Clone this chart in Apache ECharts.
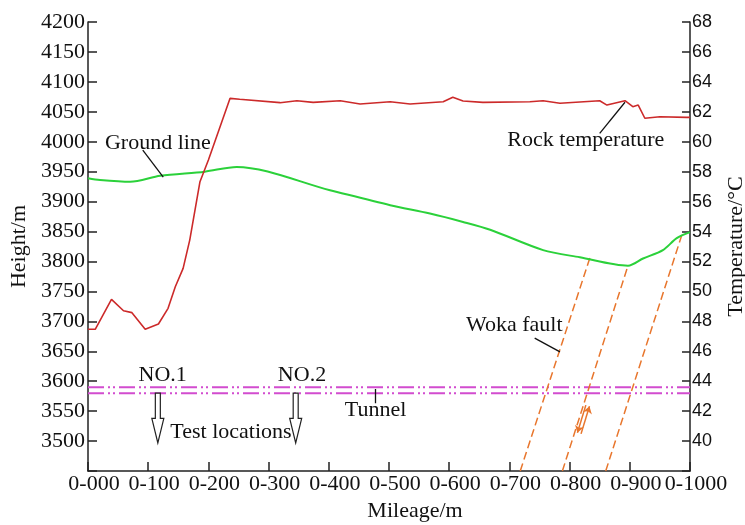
<!DOCTYPE html>
<html>
<head>
<meta charset="utf-8">
<script src="https://cdn.jsdelivr.net/npm/echarts@6/dist/echarts.min.js"></script>
<style>
  html, body { margin: 0; padding: 0; background: #fff; }
  #chart { width: 745px; height: 525px; }
</style>
</head>
<body>
<div id="chart"></div>
<script>
// Mileage tick labels (0 .. 1000 m, every 100 m)
const mileageTicks = ['0-000', '0-100', '0-200', '0-300', '0-400', '0-500',
                      '0-600', '0-700', '0-800', '0-900', '0-1000'];

// Ground surface profile: [mileage m, height m]
const groundLine = [
  [0, 3939], [20, 3936], [70, 3933], [120, 3943], [194, 3950], [247, 3958],
  [402, 3919], [502, 3894], [568, 3880], [623, 3866], [668, 3853], [756, 3819],
  [817, 3807], [897, 3793], [922, 3805], [955, 3819], [978, 3839], [1000, 3849]
];

// Rock temperature along the tunnel: [mileage m, temperature °C]
const rockTemperature = [
  [0, 47.47], [12, 47.47], [39, 49.47], [59, 48.71], [73, 48.58], [95, 47.47],
  [117, 47.82], [133, 48.87], [145, 50.31], [158, 51.54], [169, 53.43],
  [186, 57.33], [200, 58.78], [236, 62.90], [252, 62.84], [319, 62.61],
  [347, 62.74], [374, 62.63], [419, 62.74], [452, 62.52], [502, 62.67],
  [535, 62.52], [590, 62.67], [606, 62.97], [623, 62.72], [656, 62.63],
  [734, 62.67], [756, 62.74], [784, 62.57], [850, 62.74], [862, 62.45],
  [892, 62.74], [905, 62.34], [914, 62.45], [925, 61.57], [950, 61.67],
  [994, 61.63], [1000, 61.63]
];

// Tunnel outline elevations (m)
const tunnelLevels = [3590, 3580];

// Woka fault traces: [[mileage, height] bottom, [mileage, height] top]
const faultTraces = [
  [[718, 3450], [834, 3807]],
  [[788, 3450], [897, 3793]],
  [[860, 3450], [987, 3846]]
];

// Fault movement arrows: [from, to]
const faultArrows = [
  [[827, 3560], [813, 3514]],
  [[819, 3512], [833, 3558]]
];

// Test locations: [mileage, shaft top, head base, tip]
const testArrows = [
  [116, 3580, 3538, 3497],
  [345, 3580, 3538, 3497]
];

// Annotation texts: [mileage, height, text]
const noteTexts = [
  [116, 3998, 'Ground line'],
  [827, 4003, 'Rock temperature'],
  [708, 3694, 'Woka fault'],
  [124, 3610, 'NO.1'],
  [355.5, 3610, 'NO.2'],
  [477.6, 3552, 'Tunnel'],
  [237.5, 3515, 'Test locations']
];

// Leader lines from annotations to features: [from, to]
const leaderLines = [
  [[91, 3986], [125, 3941]],
  [[850, 4014], [892, 4066]],
  [[742, 3672], [784, 3649]],
  [[477, 3587], [477, 3563]]
];

const SERIF = '"Liberation Serif", "Times New Roman", serif';
const SANS = '"Liberation Sans", Arial, sans-serif';

const chart = echarts.init(document.getElementById('chart'), null, { renderer: 'canvas' });

const series = [
  {
    name: 'Ground line', type: 'line', yAxisIndex: 0, data: groundLine,
    showSymbol: false, smooth: 0.3,
    lineStyle: { color: '#2bd13a', width: 2 }, z: 3
  },
  {
    name: 'Rock temperature', type: 'line', yAxisIndex: 1, data: rockTemperature,
    showSymbol: false,
    lineStyle: { color: '#cc2a2a', width: 1.6 }, z: 4
  }
];

tunnelLevels.forEach(function (lv) {
  series.push({
    type: 'line', yAxisIndex: 0, data: [[0, lv], [1000, lv]],
    showSymbol: false, silent: true,
    lineStyle: { color: '#d24ccf', width: 2, type: [16, 4, 2, 3, 2, 4] }, z: 2
  });
});

faultTraces.forEach(function (tr) {
  series.push({
    type: 'line', yAxisIndex: 0, data: tr,
    showSymbol: false, silent: true,
    lineStyle: { color: '#e8762d', width: 1.5, type: [8, 4] }, z: 2
  });
});

series.push({
  type: 'lines', coordinateSystem: 'cartesian2d', xAxisIndex: 0, yAxisIndex: 0,
  symbol: ['none', 'arrow'], symbolSize: 7, silent: true,
  lineStyle: { color: '#e8762d', width: 1.5, opacity: 1 },
  data: faultArrows.map(function (a) { return { coords: a }; }),
  z: 5
});

series.push({
  type: 'lines', coordinateSystem: 'cartesian2d', xAxisIndex: 0, yAxisIndex: 0,
  symbol: ['none', 'none'], silent: true,
  lineStyle: { color: '#111', width: 1.3, opacity: 1 },
  data: leaderLines.map(function (a) { return { coords: a }; }),
  z: 5
});

// Hollow downward arrows marking the test locations
series.push({
  type: 'custom', xAxisIndex: 0, yAxisIndex: 0, silent: true, z: 6,
  data: testArrows,
  renderItem: function (params, api) {
    const top = api.coord([api.value(0), api.value(1)]);
    const base = api.coord([api.value(0), api.value(2)]);
    const tip = api.coord([api.value(0), api.value(3)]);
    const x = top[0], sw = 2.5, hw = 6;
    return {
      type: 'polygon',
      shape: { points: [
        [x - sw, top[1]], [x + sw, top[1]], [x + sw, base[1]], [x + hw, base[1]],
        [x, tip[1]], [x - hw, base[1]], [x - sw, base[1]]
      ] },
      style: { fill: '#fff', stroke: '#222', lineWidth: 1.2 }
    };
  },
  encode: { x: 0, y: 1 }
});

// Annotation labels
series.push({
  type: 'custom', xAxisIndex: 0, yAxisIndex: 0, silent: true, z: 7,
  data: noteTexts,
  renderItem: function (params, api) {
    const p = api.coord([api.value(0), api.value(1)]);
    return {
      type: 'text',
      x: p[0], y: p[1],
      style: {
        text: noteTexts[params.dataIndex][2],
        font: '22px ' + SERIF,
        fill: '#111', align: 'center', verticalAlign: 'middle'
      }
    };
  },
  encode: { x: 0, y: 1 }
});

chart.setOption({
  animation: false,
  backgroundColor: '#fff',
  grid: { left: 88, right: 55, top: 22, bottom: 54, containLabel: false, outerBoundsMode: 'none' },
  xAxis: {
    type: 'value', min: 0, max: 1000, interval: 100,
    name: 'Mileage/m', nameLocation: 'middle', nameGap: 27,
    nameTextStyle: { fontFamily: SERIF, fontSize: 22, color: '#111', padding: [0, 0, 0, 52] },
    axisLine: { show: true, lineStyle: { color: '#222', width: 1.5 } },
    axisTick: { show: true, inside: true, length: 9, lineStyle: { color: '#222', width: 1.5 } },
    axisLabel: {
      fontFamily: SERIF, fontSize: 22, color: '#111', margin: 2, padding: [0, 0, 0, 12],
      formatter: function (v) { return mileageTicks[Math.round(v / 100)]; }
    },
    splitLine: { show: false }
  },
  yAxis: [
    {
      type: 'value', min: 3450, max: 4200, interval: 50, position: 'left',
      name: 'Height/m', nameLocation: 'middle', nameGap: 56, nameRotate: 90,
      nameTextStyle: { fontFamily: SERIF, fontSize: 22, color: '#111' },
      axisLine: { show: true, lineStyle: { color: '#222', width: 1.5 } },
      axisTick: { show: true, inside: true, length: 9, lineStyle: { color: '#222', width: 1.5 } },
      axisLabel: {
        fontFamily: SERIF, fontSize: 22, color: '#111', margin: 3,
        formatter: function (v) { return v === 3450 ? '' : String(v); }
      },
      splitLine: { show: false }
    },
    {
      type: 'value', min: 38, max: 68, interval: 2, position: 'right',
      name: 'Temperature/°C', nameLocation: 'middle', nameGap: 35, nameRotate: 90,
      nameTextStyle: { fontFamily: SERIF, fontSize: 22, color: '#111' },
      axisLine: { show: true, lineStyle: { color: '#222', width: 1.5 } },
      axisTick: { show: true, inside: true, length: 8, lineStyle: { color: '#222', width: 1.5 } },
      axisLabel: {
        fontFamily: SANS, fontSize: 18, color: '#111', margin: 2,
        formatter: function (v) { return v === 38 ? '' : String(v); }
      },
      splitLine: { show: false }
    }
  ],
  series: series
});
</script>
</body>
</html>
